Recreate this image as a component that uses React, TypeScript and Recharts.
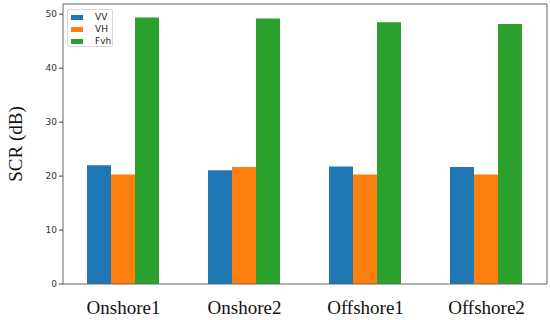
import React from "react";
import { BarChart, Bar, XAxis, YAxis } from "recharts";

const categories = ["Onshore1", "Onshore2", "Offshore1", "Offshore2"];
const vvValues = [22.0, 21.1, 21.8, 21.7];
const vhValues = [20.3, 21.7, 20.3, 20.3];
const fvhValues = [49.4, 49.2, 48.5, 48.2];
const yTicks = [0, 10, 20, 30, 40, 50];

const data = categories.map((c, i) => ({
  name: c,
  VV: vvValues[i],
  VH: vhValues[i],
  Fvh: fvhValues[i],
}));

const XTick = (props: any) => {
  const { x, y, payload } = props;
  return (
    <text
      x={x}
      y={y + 22}
      textAnchor="middle"
      fontFamily="'Liberation Serif', serif"
      fontSize={19}
      fill="#111"
    >
      {payload.value}
    </text>
  );
};

const legendItems = [
  { label: "VV", color: "#1f77b4" },
  { label: "VH", color: "#ff7f0e" },
  { label: "Fvh", color: "#2ca02c" },
];

const LegendBox = () => (
  <div
    style={{
      position: "absolute",
      left: 67,
      top: 9,
      width: 46,
      height: 38,
      border: "1px solid #d8d8d8",
      borderRadius: 2,
      background: "#fff",
      padding: "1px 0 0 3px",
      fontFamily: "'DejaVu Sans', sans-serif",
      fontSize: 9,
      color: "#222",
      boxSizing: "border-box",
    }}
  >
    {legendItems.map((it) => (
      <div key={it.label} style={{ display: "flex", alignItems: "center", height: 12 }}>
        <span style={{ display: "inline-block", width: 12, height: 5, background: it.color, marginRight: 12 }} />
        <span style={{ lineHeight: "12px" }}>{it.label}</span>
      </div>
    ))}
  </div>
);

export default function App() {
  return (
    <div style={{ position: "absolute", left: 0, top: 0, width: 550, height: 320, background: "#fff" }}>
      <BarChart
        width={550}
        height={320}
        data={data}
        margin={{ top: 3, right: 2, left: 0, bottom: 0 }}
        barCategoryGap={24}
        barGap={0}
      >
        <XAxis
          dataKey="name"
          height={36}
          tick={<XTick />}
          tickLine={false}
          axisLine={{ stroke: "#666", strokeWidth: 1 }}
        />
        <XAxis
          xAxisId="top"
          orientation="top"
          dataKey="name"
          height={1}
          tick={false}
          tickLine={false}
          axisLine={{ stroke: "#666", strokeWidth: 1 }}
        />
        <YAxis
          width={63}
          domain={[0, 51.9]}
          ticks={yTicks}
          tickSize={4}
          tickLine={{ stroke: "#444" }}
          axisLine={{ stroke: "#666", strokeWidth: 1 }}
          tick={{ fontFamily: "'DejaVu Sans', sans-serif", fontSize: 9, fill: "#333" }}
          label={{
            value: "SCR (dB)",
            angle: -90,
            position: "insideLeft",
            dx: 10,
            dy: 0,
            style: { fontFamily: "'Liberation Serif', serif", fontSize: 19, fill: "#111", textAnchor: "middle" },
          }}
        />
        <YAxis
          yAxisId="right"
          orientation="right"
          width={1}
          tick={false}
          tickLine={false}
          axisLine={{ stroke: "#666", strokeWidth: 1 }}
        />
        <Bar dataKey="VV" fill="#1f77b4" isAnimationActive={false} />
        <Bar dataKey="VH" fill="#ff7f0e" isAnimationActive={false} />
        <Bar dataKey="Fvh" fill="#2ca02c" isAnimationActive={false} />
      </BarChart>
      <LegendBox />
    </div>
  );
}
